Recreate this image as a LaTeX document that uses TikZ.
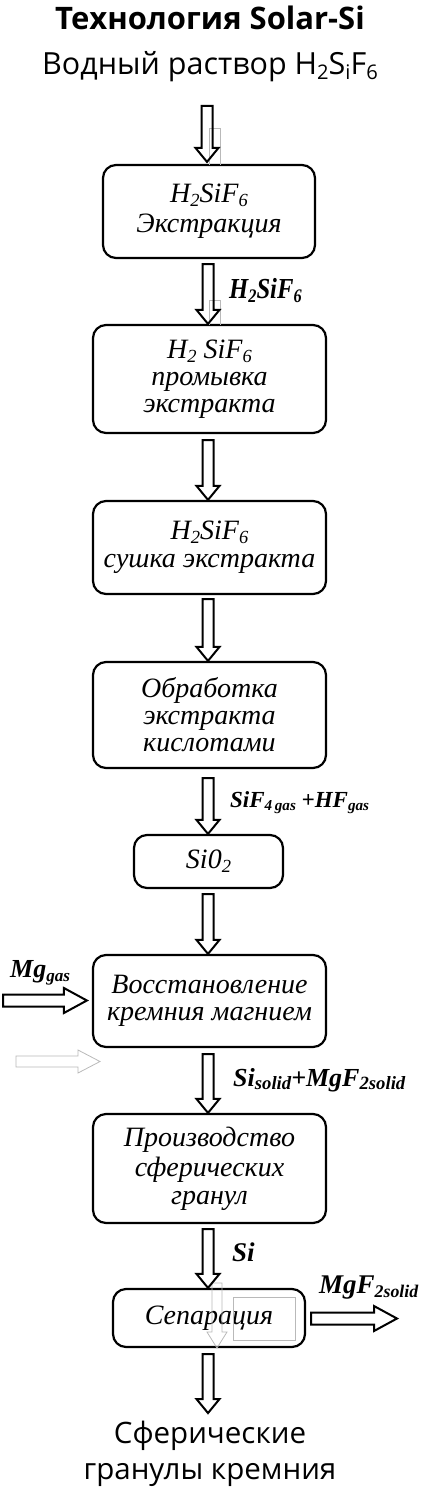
\documentclass[tikz,border=0pt]{standalone}
\usepackage{fontspec}
\usepackage{graphicx}
\setmainfont{Liberation Serif}
\newfontfamily\osans{Open Sans}
\newfontfamily\lblcond[FakeStretch=0.85]{Liberation Serif}
\usetikzlibrary{calc}
\newcommand\sbs[2][0.66]{\raisebox{-0.3ex}{\scalebox{#1}{#2}}}
\newcommand\varrow[3][black]{\draw[line width=2pt,#1,line join=miter] let \p1=(#2), \p2=(#3) in
  (\x1-5.5pt,\y1) -- (\x1+5.5pt,\y1) -- (\x1+5.5pt,\y2+14pt) -- (\x1+11.5pt,\y2+14pt) -- (\x1,\y2)
  -- (\x1-11.5pt,\y2+14pt) -- (\x1-5.5pt,\y2+14pt) -- cycle;}
\newcommand\harrow[3][black]{\draw[line width=2pt,#1,line join=miter] let \p1=(#2), \p2=(#3) in
  (\x1,\y1+6pt) -- (\x2-23pt,\y1+6pt) -- (\x2-23pt,\y1+12.5pt) -- (\x2,\y1) -- (\x2-23pt,\y1-12.5pt)
  -- (\x2-23pt,\y1-6pt) -- (\x1,\y1-6pt) -- cycle;}
\tikzset{
  box/.style={draw, line width=2.2pt, rounded corners=13pt, align=center, inner sep=0pt,
    font=\fontsize{28}{27}\selectfont\itshape},
  lbl/.style={anchor=west, inner sep=0pt, font=\bfseries\itshape},
  ghost/.style={draw=gray!55, line width=0.8pt}
}
\begin{document}
\begin{tikzpicture}[x=1pt,y=-1pt]
\useasboundingbox (0,0) rectangle (422,1490);
\node[font=\osans\bfseries\fontsize{31}{33}\selectfont, inner sep=0pt] (title) at (210,18) {Технология Solar-Si};
\node[font=\osans\fontsize{30.5}{32}\selectfont, inner sep=0pt] (sub) at (210,67) {Водный раствор H\sbs{2}S\sbs{i}F\sbs{6}};

\node[box, minimum width=212pt, minimum height=93pt] (b1) at (209,211.5) {H\sbs{2}SiF\sbs{6}\\[3pt]Экстракция};
\node[box, minimum width=233pt, minimum height=108pt] (b2) at (209.5,379) {H\sbs{2} SiF\sbs{6}\\промывка\\экстракта};
\node[box, minimum width=233pt, minimum height=93pt] (b3) at (209.5,547.5) {H\sbs{2}SiF\sbs{6}\\[1pt]сушка экстракта};
\node[box, minimum width=233pt, minimum height=106pt] (b4) at (209.5,715) {Обработка\\экстракта\\кислотами};
\node[box, minimum width=149pt, minimum height=53pt] (b5) at (208.5,861.5) {Si0\sbs{2}};
\node[box, minimum width=233pt, minimum height=92pt] (b6) at (209.5,1001) {Восстановление\\кремния магнием};
\node[box, minimum width=233pt, minimum height=109pt] (b7) at (209.5,1168.5) {Производство\\[3pt]сферических\\[1pt]гранул};
\node[box, minimum width=192pt, minimum height=58pt] (b8) at (209,1318) {Сепарация};
\node[font=\osans\fontsize{29.5}{36}\selectfont, align=center, inner sep=0pt] (fin) at (210,1454) {Сферические\\гранулы кремния};

% faint artefacts
\draw[ghost] (209,165) -- (209,128) -- (220,128) -- (220,165);
\draw[ghost] (209,325) -- (209,300) -- (220,300) -- (220,325);
\draw[ghost] (16,1056) -- (78,1056) -- (78,1050) -- (100,1061.5) -- (78,1073) -- (78,1067) -- (16,1067) -- cycle;
\draw[ghost] (212,1283) -- (222,1283) -- (222,1332) -- (227,1332) -- (217,1348) -- (207,1332) -- (212,1332) -- cycle;
\draw[ghost] (233,1297) rectangle (295,1340);

% vertical arrows
\coordinate (a1) at (207,106);
\varrow{a1}{$(b1.north)+(-1.5,-2)$}
\varrow{$(b1.south)+(-1,5)$}{b2.north}
\varrow{$(b2.south)+(-1.5,6)$}{b3.north}
\varrow{$(b3.south)+(-1.5,4)$}{b4.north}
\varrow{$(b4.south)+(-1.5,9)$}{b5.north}
\varrow{$(b5.south)+(-0.5,5)$}{b6.north}
\varrow{$(b6.south)+(-1.5,6)$}{b7.north}
\varrow{$(b7.south)+(-1.5,5)$}{b8.north}
\varrow{$(b8.south)+(-1,6)$}{$(fin.north)+(0,-8)$}

\node[lbl, font=\lblcond\bfseries\itshape\fontsize{29}{30}\selectfont] (l2) at (229,291) {H\sbs{2}SiF\sbs{6}};
\node[lbl, font=\bfseries\itshape\fontsize{23}{25}\selectfont] (l5) at (230,803) {SiF\sbs{4\,gas} +HF\sbs{gas}};
\node[lbl, font=\bfseries\itshape\fontsize{26}{28}\selectfont] (l7) at (233,1080) {Si\sbs[0.72]{solid}+MgF\sbs[0.72]{2solid}};
\node[lbl, font=\bfseries\itshape\fontsize{27}{28}\selectfont] (l8) at (232,1252) {Si};

% side arrows
\coordinate (mgs) at (3,1000.5);
\harrow{mgs}{$(b6.west)+(-5,0)$}
\node[lbl, font=\bfseries\itshape\fontsize{26}{28}\selectfont] (lmg) at (10,973) {Mg\sbs{gas}};
\coordinate (mge) at (397,1318.5);
\harrow{$(b8.east)+(5,0.5)$}{mge}
\node[lbl, font=\bfseries\itshape\fontsize{27}{28}\selectfont] (lmgf) at (319,1288) {MgF\sbs{2solid}};
\end{tikzpicture}
\end{document}
